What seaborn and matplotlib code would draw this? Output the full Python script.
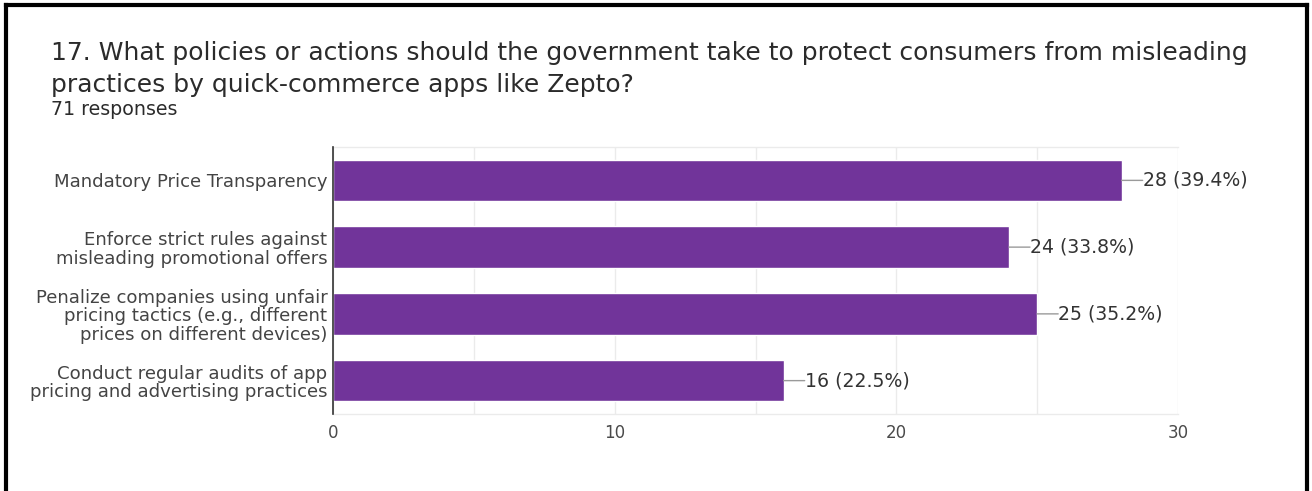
import matplotlib
matplotlib.use("Agg")
import matplotlib.pyplot as plt
from matplotlib.lines import Line2D
from matplotlib.ticker import MultipleLocator
import seaborn as sns
import pandas as pd

# Survey question 17 responses
categories = [
    "Mandatory Price Transparency",
    "Enforce strict rules against\nmisleading promotional offers",
    "Penalize companies using unfair\npricing tactics (e.g., different\nprices on different devices)",
    "Conduct regular audits of app\npricing and advertising practices",
]
counts = [28, 24, 25, 16]
percents = [39.4, 33.8, 35.2, 22.5]
total_responses = 71
x_ticks = [0, 10, 20, 30]

title_lines = [
    "17. What policies or actions should the government take to protect consumers from misleading",
    "practices by quick-commerce apps like Zepto?",
]
subtitle = f"{total_responses} responses"

df = pd.DataFrame({"option": categories, "count": counts})

sns.set_theme(style="white")
FONT = ["DejaVu Sans"]
plt.rcParams["font.family"] = FONT

W, H = 1312, 491
fig = plt.figure(figsize=(W / 100, H / 100), dpi=100)
fig.patch.set_facecolor("white")
renderer = fig.canvas.get_renderer()


def fit_width(txt, target_px):
    """Scale a text's font size so its rendered width is target_px."""
    w = txt.get_window_extent(renderer).width
    txt.set_fontsize(txt.get_fontsize() * target_px / w)
    return txt.get_fontsize()


ax = fig.add_axes([333 / W, 1 - 414 / H, (1178 - 333) / W, (414 - 147) / H])

bar_color = "#71349a"
sns.barplot(data=df, y="option", x="count", orient="h", color=bar_color,
            width=0.62, saturation=1, ax=ax, zorder=3)

ax.set_xlim(0, 30)
ax.set_ylim(3.5, -0.5)
ax.set_xticks(x_ticks)
ax.xaxis.set_minor_locator(MultipleLocator(5))
ax.grid(True, axis="x", which="both", color="#ebebeb", linewidth=1, zorder=0)
ax.set_xlabel("")
ax.set_ylabel("")
ax.tick_params(axis="x", length=0, pad=7, labelsize=12, labelcolor="#4a4a4a")
ax.tick_params(axis="y", length=0, pad=4, labelcolor="#444444")

for side in ["top", "bottom"]:
    ax.spines[side].set_color("#ebebeb")
    ax.spines[side].set_linewidth(1)
ax.spines["right"].set_visible(False)
ax.spines["left"].set_color("#333333")
ax.spines["left"].set_linewidth(1.2)
ax.spines["left"].set_zorder(4)

# category labels: size from the widest label
ylabels = ax.get_yticklabels()
for lbl in ylabels:
    lbl.set_linespacing(1.05)
widest = max(ylabels, key=lambda t: t.get_window_extent(renderer).width)
cat_size = fit_width(widest, 300)
for lbl in ylabels:
    lbl.set_fontsize(cat_size)

# value labels with short leader lines
val_texts = []
for i, (c, p) in enumerate(zip(counts, percents)):
    ax.annotate("", xy=(c, i), xytext=(21, 0), textcoords="offset pixels",
                arrowprops=dict(arrowstyle="-", color="#9a9a9a", lw=1, shrinkA=0, shrinkB=0))
    t = ax.annotate(f"{c} ({p}%)", xy=(c, i), xytext=(21, 0), textcoords="offset pixels",
                    ha="left", va="center", fontsize=12, color="#333333")
    val_texts.append(t)
val_size = fit_width(val_texts[0], 104)
for t in val_texts:
    t.set_fontsize(val_size)

# title and response count
title_color = "#2b2b2b"
t1 = fig.text(51 / W, 1 - 60 / H, title_lines[0], fontsize=16, color=title_color,
              va="baseline", ha="left")
title_size = fit_width(t1, 1197)
fig.text(51 / W, 1 - 92 / H, title_lines[1], fontsize=title_size, color=title_color,
         va="baseline", ha="left")
st = fig.text(51 / W, 1 - 115 / H, subtitle, fontsize=10, color=title_color,
              va="baseline", ha="left")
fit_width(st, 126)

# outer frame (left, top, right)
frame_kw = dict(color="black", linewidth=3, transform=fig.transFigure, solid_capstyle="projecting")
fig.add_artist(Line2D([6 / W, 6 / W], [0, 1 - 5 / H], **frame_kw))
fig.add_artist(Line2D([6 / W, 1307 / W], [1 - 5 / H, 1 - 5 / H], **frame_kw))
fig.add_artist(Line2D([1307 / W, 1307 / W], [0, 1 - 5 / H], **frame_kw))

fig.savefig("out.png", dpi=100, facecolor="white")
